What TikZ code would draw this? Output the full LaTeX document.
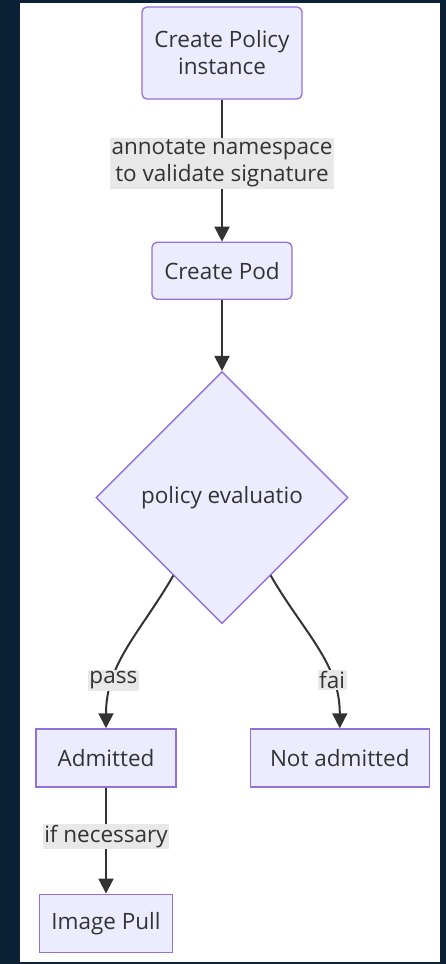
\documentclass[tikz,border=0pt]{standalone}
\usepackage{fontspec}
\setmainfont{Open Sans}
\usepackage{xcolor}
\usetikzlibrary{arrows.meta,positioning,shapes.geometric}
\definecolor{nodefill}{HTML}{ECECFF}
\definecolor{nodeline}{HTML}{9370DB}
\definecolor{edgeline}{HTML}{333333}
\definecolor{lblfill}{HTML}{E8E8E8}
\definecolor{pagebg}{HTML}{0B2236}

\begin{document}
\begin{tikzpicture}[x=1pt, y=-1pt,
  box/.style={draw=nodeline, line width=1.3pt, fill=nodefill, align=center, text=edgeline,
              font=\fontsize{22.5pt}{27pt}\selectfont, inner sep=2pt},
  choice/.style={diamond, aspect=1, draw=nodeline, line width=1.3pt, fill=nodefill, text=edgeline,
                 font=\fontsize{22.5pt}{27pt}\selectfont, inner sep=0pt,
                 minimum width=252pt, minimum height=252pt},
  lbl/.style={fill=lblfill, align=center, text=edgeline, inner sep=1.5pt,
              font=\fontsize{22.5pt}{27pt}\selectfont},
  arr/.style={-{Triangle[length=15pt, width=15pt]}, edgeline, line width=2pt}]
\useasboundingbox (0,0) rectangle (446,964);
\fill[pagebg] (0,0) rectangle (446,964);
\fill[white] (20,3) rectangle (440,962);
\node[box, rounded corners=5pt, minimum width=160pt, minimum height=92pt] (pol) at (222,53) {Create Policy\\ instance};
\node[box, rounded corners=5pt, minimum width=140pt, minimum height=57pt, below=142pt of pol] (pod) {Create Pod};
\node[choice, below=71pt of pod] (eval) {policy evaluatio};
\node[box, minimum width=140pt, minimum height=58pt, below=104pt of eval.south, xshift=-116pt] (adm) {Admitted};
\node[box, minimum width=179pt, minimum height=58pt, right=73pt of adm] (nadm) {Not admitted};
\node[box, minimum width=133pt, minimum height=58pt, below=106pt of adm] (pull) {Image Pull};
\draw[arr] (pol) -- node[lbl, pos=0.45] {annotate namespace\\ to validate signature} (pod);
\draw[arr] (pod) -- (eval);
\draw[arr] (eval.-122) to[out=-120, in=90] node[lbl, pos=0.72] {pass} (adm);
\draw[arr] (eval.-58) to[out=-60, in=90] node[lbl, pos=0.72] {fai} (nadm);
\draw[arr] (adm) -- node[lbl, pos=0.46] {if necessary} (pull);
\end{tikzpicture}
\end{document}
